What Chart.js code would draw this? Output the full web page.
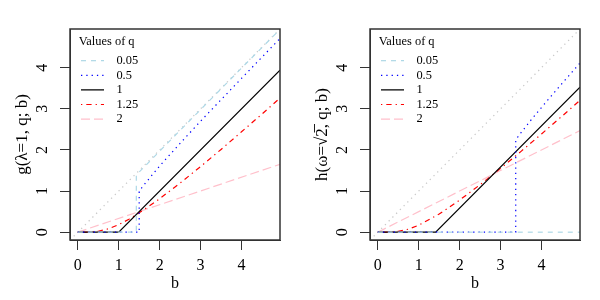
<!DOCTYPE html>
<html>
<head>
<meta charset="utf-8">
<script src="https://cdn.jsdelivr.net/npm/chart.js@4.4.1/dist/chart.umd.min.js"></script>
<style>
    body { margin: 0; background: #fff; }
    #wrap { display: flex; width: 600px; height: 300px; }
    canvas { display: block; }
</style>
</head>
<body>
<div id="wrap">
    <canvas id="leftChart" width="300" height="300"></canvas>
    <canvas id="rightChart" width="300" height="300"></canvas>
</div>
<script>
// Legend entries (values of q) and axis ticks
const qLabels = ['0.05', '0.5', '1', '1.25', '2'];
const xTicks = [0, 1, 2, 3, 4];
const yTicks = [0, 1, 2, 3, 4];

// Left panel: g(lambda=1, q; b)
const gB005 = [0, 1.43, 1.43, 2, 3, 4, 4.94];
const gY005 = [0, 0, 1.39, 1.97, 2.98, 3.99, 4.93];
const gB05 = [0, 1.5, 1.5, 1.6, 1.75, 2, 2.5, 3, 4, 4.94];
const gY05 = [0, 0, 1.0, 1.13, 1.31, 1.61, 2.16, 2.70, 3.74, 4.71];
const gB1 = [0, 1, 4.94];
const gY1 = [0, 0, 3.94];
const gB125 = [0, 0.25, 0.5, 0.75, 1, 1.25, 1.5, 2, 2.5, 3, 3.5, 4, 4.5, 4.94];
const gY125 = [0, 0.002, 0.022, 0.082, 0.185, 0.314, 0.47, 0.813, 1.195, 1.595, 2.012, 2.44, 2.873, 3.26];
const gB2 = [0, 4.94];
const gY2 = [0, 1.65];

// Right panel: h(omega=sqrt(2), q; b)
const hB005 = [0, 4.94];
const hY005 = [0, 0];
const hB05 = [0, 3.37, 3.37, 3.5, 3.75, 4, 4.5, 4.94];
const hY05 = [0, 0, 2.245, 2.42, 2.735, 3.034, 3.615, 4.11];
const hB1 = [0, 1.414, 4.94];
const hY1 = [0, 0, 3.526];
const hB125 = [0, 0.25, 0.5, 0.75, 1, 1.5, 2, 2.5, 3, 3.5, 4, 4.5, 4.94];
const hY125 = [0, 0.001, 0.019, 0.074, 0.169, 0.443, 0.781, 1.155, 1.552, 1.965, 2.388, 2.82, 3.205];
const hB2 = [0, 4.94];
const hY2 = [0, 2.47];

// identity line y = b (grey, dotted)
const diagB = [-0.19, 4.94];
const diagY = [-0.19, 4.94];

// line styles, same order as qLabels
const lineColors = ['#add8e6', '#0000ff', '#000000', '#ff0000', '#ffc0cb'];
const lineDashes = [[5, 5], [1.3, 4], [], [1.3, 4, 5.3, 4], [9, 4]];

Chart.defaults.font.family = '"Liberation Serif", "DejaVu Serif", serif';
Chart.defaults.color = '#000';

const toPoints = (bs, ys) => bs.map((b, i) => ({x: b, y: ys[i]}));

// R style box around the plot region
const boxPlugin = {
    id: 'box',
    afterDatasetsDraw(chart) {
        const {ctx, chartArea: a} = chart;
        ctx.save();
        ctx.strokeStyle = '#333';
        ctx.lineWidth = 1.5;
        ctx.strokeRect(a.left, a.top, a.right - a.left, a.bottom - a.top);
        ctx.restore();
    }
};

// nudge the legend to where R puts it
const legendPlace = {
    id: 'legendPlace',
    afterLayout(chart) {
        chart.legend.left = 78.8;
        chart.legend.top = 35.5;
    }
};

function makeChart(canvasId, series, yTitle) {
    const datasets = series.map((s, i) => ({
        label: qLabels[i],
        data: toPoints(s[0], s[1]),
        borderColor: lineColors[i],
        borderDash: lineDashes[i],
        borderWidth: 1.2
    }));
    datasets.push({
        label: 'identity',
        data: toPoints(diagB, diagY),
        borderColor: '#c8c8c8',
        borderDash: [1.3, 4],
        borderWidth: 1.2
    });

    return new Chart(document.getElementById(canvasId).getContext('2d'), {
        type: 'scatter',
        data: { datasets: datasets },
        options: {
            responsive: false,
            animation: false,
            events: [],
            showLine: true,
            elements: { point: { radius: 0 }, line: { tension: 0 } },
            layout: { padding: { top: 29, right: 20, left: 0, bottom: 0 } },
            plugins: {
                tooltip: { enabled: false },
                legend: {
                    position: 'chartArea',
                    align: 'start',
                    title: {
                        display: true,
                        text: 'Values of q',
                        position: 'start',
                        font: { size: 12.4 },
                        padding: { top: 0, bottom: 1.9 }
                    },
                    labels: {
                        usePointStyle: true,
                        pointStyle: 'line',
                        pointStyleWidth: 23,
                        padding: 2.2,
                        font: { size: 12.4 },
                        filter: item => item.datasetIndex < qLabels.length,
                        // point style legend items lose the dash, put it back
                        generateLabels: chart => Chart.defaults.plugins.legend.labels.generateLabels(chart)
                            .map(item => Object.assign(item, {
                                text: '  ' + item.text,
                                lineDash: lineDashes[item.datasetIndex] || [],
                                strokeStyle: lineColors[item.datasetIndex] || item.strokeStyle,
                                lineWidth: 1.2
                            }))
                    }
                }
            },
            scales: {
                x: {
                    type: 'linear',
                    min: -0.19,
                    max: 4.94,
                    afterBuildTicks: s => { s.ticks = xTicks.map(v => ({ value: v })); },
                    afterFit: s => { s.height = 60; },
                    grid: { drawOnChartArea: false, tickLength: 10, color: '#333' },
                    border: { color: '#333' },
                    ticks: { padding: 6, font: { size: 16 }, maxRotation: 0 },
                    title: { display: true, text: 'b', font: { size: 16 }, padding: { top: 0, bottom: 7 } }
                },
                y: {
                    type: 'linear',
                    min: -0.19,
                    max: 4.94,
                    afterBuildTicks: s => { s.ticks = yTicks.map(v => ({ value: v })); },
                    afterFit: s => { s.width = 70; },
                    grid: { drawOnChartArea: false, tickLength: 10, color: '#333' },
                    border: { color: '#333' },
                    ticks: { padding: 13.5, font: { size: 16 }, minRotation: 90, maxRotation: 90, crossAlign: 'center' },
                    title: { display: true, text: yTitle, font: { size: 17 }, padding: { top: 12, bottom: 0 } }
                }
            }
        },
        plugins: [boxPlugin, legendPlace]
    });
}

makeChart('leftChart',
    [[gB005, gY005], [gB05, gY05], [gB1, gY1], [gB125, gY125], [gB2, gY2]],
    'g(λ=1, q; b)');
makeChart('rightChart',
    [[hB005, hY005], [hB05, hY05], [hB1, hY1], [hB125, hY125], [hB2, hY2]],
    'h(ω=√2\u0305, q; b)');
</script>
</body>
</html>
